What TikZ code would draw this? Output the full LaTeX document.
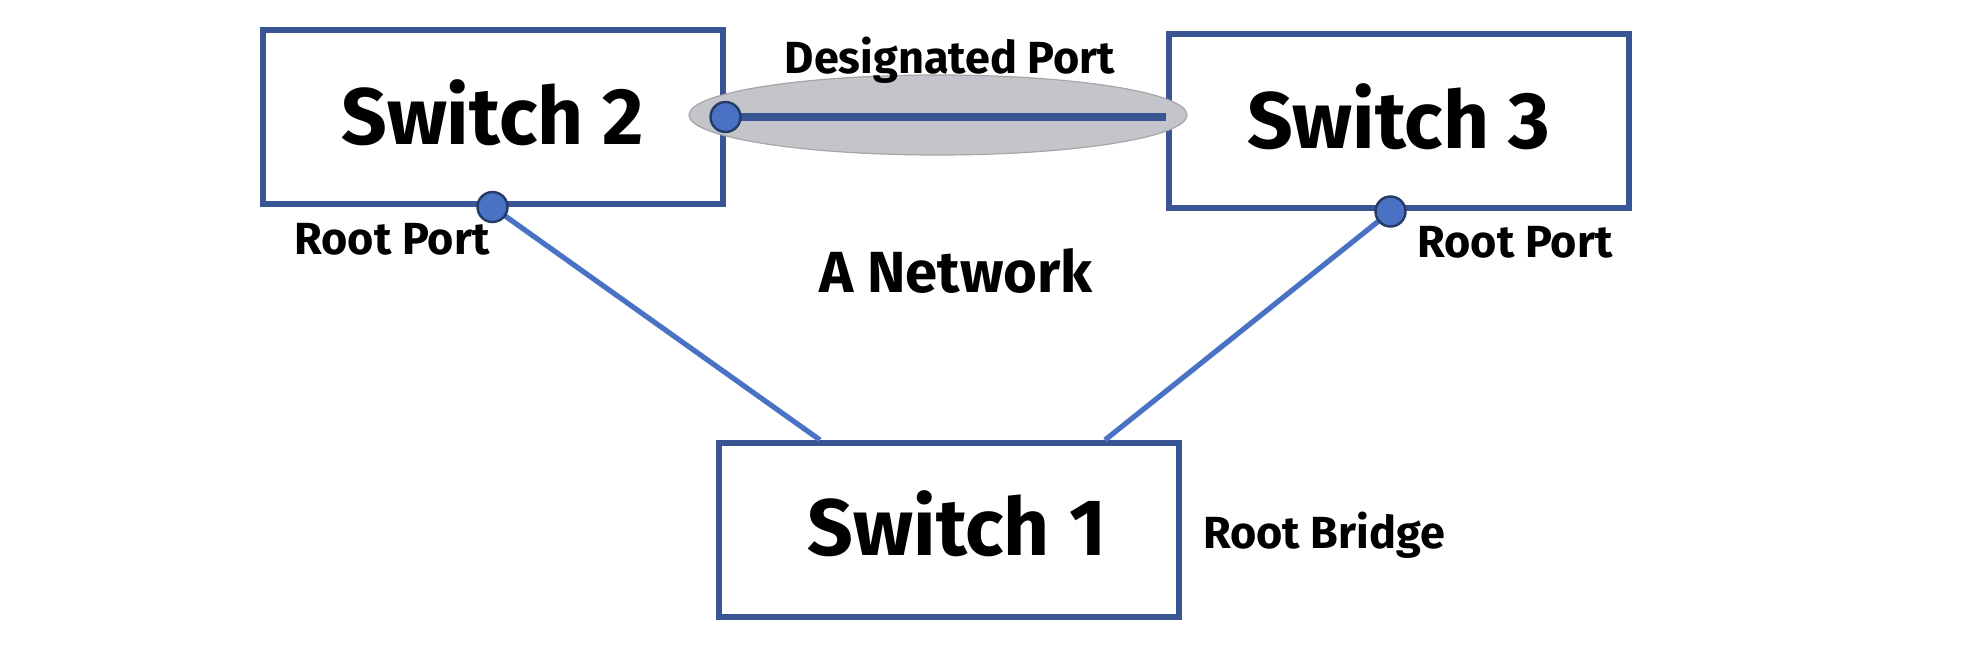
\documentclass[tikz,border=0pt]{standalone}
\usepackage{fontspec}
\setmainfont{Fira Sans}
\usetikzlibrary{shapes.geometric,positioning}
\definecolor{boxblue}{HTML}{3A5594}
\definecolor{linkblue}{HTML}{4A72C4}
\definecolor{dotedge}{HTML}{263A66}
\definecolor{lanegray}{HTML}{C3C5CB}
\tikzset{
  switchbox/.style={draw=boxblue,line width=3pt,minimum width=230pt,minimum height=87pt,inner sep=0pt,text depth=5pt,font=\fontsize{40}{46}\selectfont\bfseries},
  portdot/.style={circle,draw=dotedge,fill=linkblue,line width=1.2pt,minimum width=13pt,minimum height=15pt,inner sep=0pt},
  link/.style={draw=linkblue,line width=2.6pt},
  tag/.style={inner sep=0pt,font=\fontsize{22.5}{27}\selectfont\bfseries}
}
\begin{document}
\begin{tikzpicture}[x=0.5pt,y=-0.5pt]
\useasboundingbox[fill=white] (0,0) rectangle (1974,668);
% switches
\node[switchbox] (sw2) at (492.5,117) {Switch 2};
\node[switchbox] (sw3) at (1398.5,121.5) {Switch 3};
\node[switchbox,text depth=7pt] (sw1) at (949,530) {\hspace*{8pt}Switch 1};
% shared segment between switch 2 and switch 3
\node[ellipse,draw=gray!70,fill=lanegray,line width=0.6pt,minimum width=249pt,minimum height=40pt,inner sep=0pt] (lane) at (938,115) {};
\coordinate (p23) at (sw2.east);
\draw[link,draw=boxblue,line width=4pt] (p23) -- (p23 -| sw3.west);
% links to the root bridge
\coordinate (s1a) at ([xshift=-64.5pt]sw1.north);
\coordinate (s1b) at ([xshift=78pt]sw1.north);
\draw[link] (sw2.south) -- (s1a);
\draw[link] ([xshift=-4pt]sw3.south) -- (s1b);
% ports
\node[portdot] (dp) at (p23) {};
\node[portdot] (rp2) at (sw2.south) {};
\node[portdot] (rp3) at ([xshift=-4pt]sw3.south) {};
% labels
\node[tag] (dptxt) at (950,60) {Designated Port};
\node[tag] (rp2txt) at (392,239) {Root Port};
\node[tag] (rp3txt) at (1515,242) {Root Port};
\node[tag,font=\fontsize{29}{34}\selectfont\bfseries] (net) at (956,271) {A Network};
\node[tag] (rb) at (1324,535) {Root Bridge};
\end{tikzpicture}
\end{document}
